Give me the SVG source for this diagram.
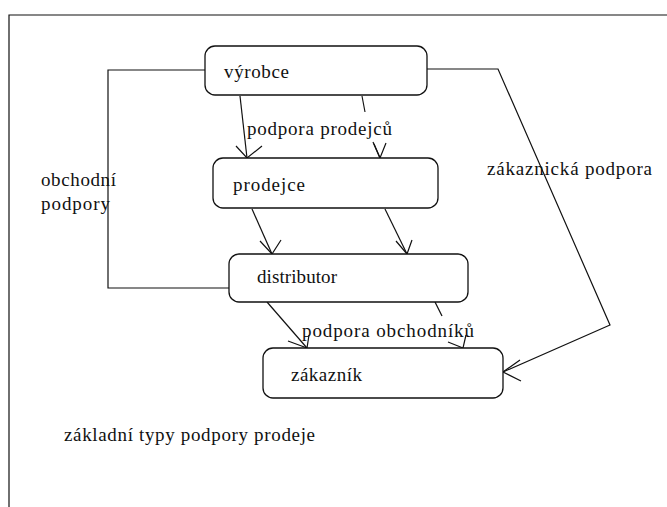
<svg xmlns="http://www.w3.org/2000/svg" width="667" height="507" viewBox="0 0 667 507">
<style>
.box{fill:#fff;stroke:#111;stroke-width:1.3}
.ln{fill:none;stroke:#111;stroke-width:1.2}
.t{font-family:'Liberation Serif','DejaVu Serif',serif;font-size:19px;fill:#111}
</style>
<rect x="0" y="0" width="667" height="507" fill="#fff"/>
<path class="ln" d="M9,507 V15 H667"/>
<g id="connectors">
  <path class="ln" d="M205,70 H108 V288 H229"/>
  <path class="ln" d="M427,69 H498 L610,325 L503,372"/>
  <path class="ln" d="M520,360 L503,372 L521,381"/>
  <path class="ln" d="M240,96 L247,158"/>
  <path class="ln" d="M236,146 L247,158 L262,146"/>
  <path class="ln" d="M362,96 L365,112"/>
  <path class="ln" d="M373,142 L380,158"/>
  <path class="ln" d="M374,144 L380,158 L386,143"/>
  <path class="ln" d="M252,209 L272,254"/>
  <path class="ln" d="M260,241 L272,254 L281,240"/>
  <path class="ln" d="M385,209 L407,254"/>
  <path class="ln" d="M396,241 L407,254 L412,240"/>
  <path class="ln" d="M267,302 L307,348"/>
  <path class="ln" d="M288,341 L307,348 L309,335"/>
  <path class="ln" d="M435,302 L442,316"/>
  <path class="ln" d="M448,342 L463,348 L466,335"/>
  <text class="t" x="247" y="135" textLength="145" lengthAdjust="spacing">podpora prodejců</text>
  <text class="t" x="302" y="337" textLength="172" lengthAdjust="spacing">podpora obchodníků</text>
  <text class="t" x="487" y="175" textLength="165" lengthAdjust="spacing">zákaznická podpora</text>
  <text class="t" x="41" y="186" textLength="75" lengthAdjust="spacing">obchodní</text>
  <text class="t" x="41" y="210" textLength="69" lengthAdjust="spacing">podpory</text>
</g>
<g id="vyrobce">
  <rect class="box" x="205" y="46" width="222" height="49" rx="10"/>
  <text class="t" x="224" y="78" textLength="65" lengthAdjust="spacing">výrobce</text>
</g>
<g id="prodejce">
  <rect class="box" x="213" y="158" width="225" height="50" rx="10"/>
  <text class="t" x="233" y="191" textLength="72" lengthAdjust="spacing">prodejce</text>
</g>
<g id="distributor">
  <rect class="box" x="229" y="254" width="239" height="48" rx="10"/>
  <text class="t" x="257" y="283" textLength="80" lengthAdjust="spacing">distributor</text>
</g>
<g id="zakaznik">
  <rect class="box" x="263" y="348" width="240" height="50" rx="10"/>
  <text class="t" x="291" y="381" textLength="71" lengthAdjust="spacing">zákazník</text>
</g>
<text class="t" x="64" y="441" textLength="251" lengthAdjust="spacing">základní typy podpory prodeje</text>
</svg>
